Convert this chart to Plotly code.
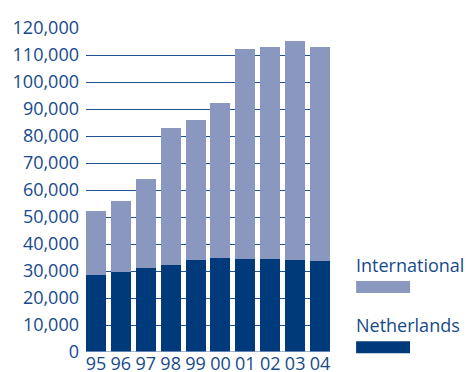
import plotly.graph_objects as go

years = ["95", "96", "97", "98", "99", "00", "01", "02", "03", "04"]
netherlands = [28500, 29500, 31000, 32300, 34100, 34900, 34500, 34500, 34200, 33800]
totals = [52300, 56000, 64200, 82800, 86100, 92400, 112100, 112800, 115100, 112800]
international = [t - n for t, n in zip(totals, netherlands)]
series_names = ["Netherlands", "International"]
y_ticks = list(range(0, 120001, 10000))

NL_COLOR = "#003a7a"
INT_COLOR = "#8a97be"
TEXT = "#174a8b"
FONT = "Open Sans"

fig = go.Figure()
fig.add_trace(go.Bar(x=years, y=netherlands, name=series_names[0],
                     marker=dict(color=NL_COLOR, line=dict(width=0))))
fig.add_trace(go.Bar(x=years, y=international, name=series_names[1],
                     marker=dict(color=INT_COLOR, line=dict(width=0))))

fig.update_layout(
    barmode="stack",
    bargap=0.2,
    width=469, height=372,
    margin=dict(l=86, r=139, t=28, b=20),
    paper_bgcolor="white", plot_bgcolor="white",
    showlegend=False,
    font=dict(family=FONT, size=18, color=TEXT),
    xaxis=dict(type="category", range=[-0.4, 9.4], showgrid=False,
               showline=False, zeroline=False, ticks="", automargin=False,
               ticklabelstandoff=-1,
               tickfont=dict(size=18, color=TEXT, family=FONT)),
    yaxis=dict(range=[0, 120000], tickvals=y_ticks,
               ticktext=[f"{v:,}" for v in y_ticks],
               showgrid=True, gridcolor="#1f5291", gridwidth=1.4,
               zeroline=False, showline=False, ticks="", automargin=False,
               ticklabelstandoff=6,
               tickfont=dict(size=18, color=TEXT, family=FONT)),
)

# zero baseline (lighter)
fig.add_shape(type="line", xref="paper", yref="y", x0=0, x1=1, y0=0, y1=0,
              line=dict(color="#7f9cc6", width=1.5), layer="above")

# custom legend: label above swatch
legend_items = [(series_names[1], INT_COLOR, 0.269), (series_names[0], NL_COLOR, 0.083)]
for name, color, yp in legend_items:
    fig.add_annotation(xref="paper", yref="paper", x=1.099, y=yp,
                       text=name, showarrow=False, xanchor="left", yanchor="middle",
                       font=dict(size=18, color=TEXT, family=FONT))
    fig.add_shape(type="rect", xref="paper", yref="paper",
                  x0=1.107, x1=1.328, y0=yp - 0.087, y1=yp - 0.050,
                  fillcolor=color, line=dict(width=0))

fig.write_html("out.html")
